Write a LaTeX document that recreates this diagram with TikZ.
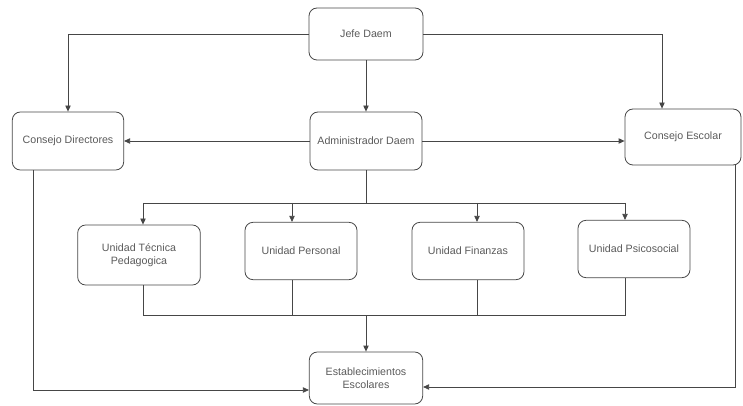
\documentclass[tikz,border=0pt]{standalone}
\usepackage{fontspec}
\setmainfont{Liberation Sans}
\usetikzlibrary{arrows.meta}
\definecolor{linegray}{RGB}{70,70,70}
\definecolor{textgray}{RGB}{90,90,90}

\begin{document}
\begin{tikzpicture}[x=0.75pt,y=0.75pt,yscale=-1,xscale=1,
    unitbox/.style={draw=linegray,line width=0.6pt,rounded corners=6pt,align=center,
        text=textgray,font=\fontsize{8}{10}\selectfont,inner sep=2pt},
    link/.style={draw=linegray,line width=0.6pt},
    arr/.style={link,-{Triangle[length=4.5pt,width=4pt]}}]
\useasboundingbox (0,0) rectangle (743,406);
% boxes
\node [unitbox,minimum width=85.5pt,minimum height=39pt] (jefe) at (366,34) {Jefe Daem};
\node [unitbox,minimum width=84pt,minimum height=43.5pt] (admin) at (366,141) {Administrador Daem};
\node [unitbox,minimum width=83.5pt,minimum height=43.5pt] (cdir) at (68,141) {Consejo Directores};
\node [unitbox,minimum width=87pt,minimum height=42pt] (cesc) at (683,137) {Consejo Escolar};
\node [unitbox,minimum width=92pt,minimum height=45pt] (utp) at (139,255) {Unidad Técnica\\Pedagogica};
\node [unitbox,minimum width=84pt,minimum height=43pt] (upers) at (301,251) {Unidad Personal};
\node [unitbox,minimum width=84pt,minimum height=43pt] (ufin) at (468,251) {Unidad Finanzas};
\node [unitbox,minimum width=84pt,minimum height=43pt] (upsi) at (634,249) {Unidad Psicosocial};
\node [unitbox,minimum width=85pt,minimum height=39pt] (estab) at (366,378) {Establecimientos\\Escolares};
% taps
\coordinate (tdir) at (68,141);
\coordinate (tesc) at (662,137);
\coordinate (bus) at (366,203);
\coordinate (sum) at (366,315);
\coordinate (t1) at (143,203);
\coordinate (t2) at (292,203);
\coordinate (t3) at (477,203);
\coordinate (t4) at (625,203);
\coordinate (ldir) at (33,390);
\coordinate (lesc) at (735,387);
% top level
\draw [arr] (jefe.west) -| (tdir |- cdir.north);
\draw [arr] (jefe.east) -| (tesc |- cesc.north);
\draw [arr] (jefe.south) -- (admin.north);
\draw [arr] (admin.west) -- (cdir.east |- admin.west);
\draw [arr] (admin.east) -- (cesc.west |- admin.east);
% units
\draw [link] (admin.south) -- (bus);
\draw [link] (t1) -- (t4);
\draw [arr] (t1) -- (t1 |- utp.north);
\draw [arr] (t2) -- (t2 |- upers.north);
\draw [arr] (t3) -- (t3 |- ufin.north);
\draw [arr] (t4) -- (t4 |- upsi.north);
\draw [link] (t1 |- utp.south) -- (t1 |- sum) -- (t4 |- sum) -- (t4 |- upsi.south);
\draw [link] (t2 |- upers.south) -- (t2 |- sum);
\draw [link] (t3 |- ufin.south) -- (t3 |- sum);
\draw [arr] (sum) -- (estab.north);
% councils to schools
\draw [arr] (ldir |- cdir.south) -- (ldir) -- (ldir -| estab.west);
\draw [arr] (lesc |- cesc.south) -- (lesc) -- (lesc -| estab.east);
\end{tikzpicture}
\end{document}
